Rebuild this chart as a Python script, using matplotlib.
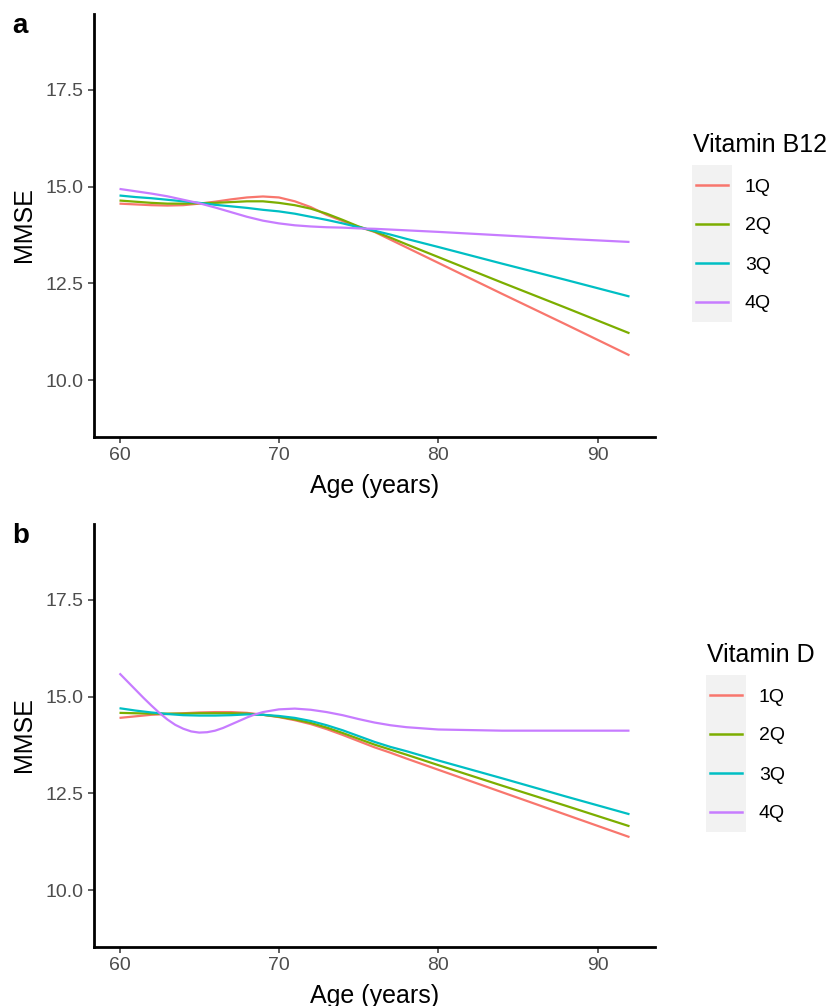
import matplotlib
matplotlib.use('Agg')
import matplotlib.pyplot as plt
from matplotlib.patches import Rectangle
from matplotlib.lines import Line2D

plt.rcParams['font.family'] = ['Liberation Sans', 'DejaVu Sans']

# data (smoothed MMSE by age)
AGES = [60, 61, 62, 63, 64, 65, 66, 67, 68, 69, 70, 71, 72, 73, 74, 75, 76, 77, 78,
        80, 84, 88, 92]
# the wiggly Vitamin D 4Q curve is read at half-year steps early on
AGES_VD4 = [60, 60.5, 61, 61.5, 62, 62.5, 63, 63.5, 64, 64.5, 65, 65.5, 66, 66.5, 67,
            67.5, 68, 68.5, 69, 70, 71, 72, 73, 74, 75, 76, 77, 78, 80, 84, 88, 92]
QUARTILES = ['1Q', '2Q', '3Q', '4Q']

# panel a: Vitamin B12
b12_1q = [14.56, 14.54, 14.52, 14.51, 14.52, 14.56, 14.61, 14.67, 14.72, 14.745, 14.72, 14.62,
          14.47, 14.27, 14.11, 13.96, 13.83, 13.63, 13.43, 13.03, 12.23, 11.44, 10.64]
b12_2q = [14.64, 14.61, 14.58, 14.56, 14.56, 14.57, 14.58, 14.60, 14.62, 14.62, 14.58, 14.52,
          14.43, 14.30, 14.14, 13.97, 13.84, 13.68, 13.51, 13.18, 12.52, 11.87, 11.21]
b12_3q = [14.77, 14.73, 14.70, 14.66, 14.62, 14.58, 14.53, 14.49, 14.45, 14.40, 14.36, 14.30,
          14.22, 14.14, 14.05, 13.95, 13.86, 13.76, 13.65, 13.44, 13.01, 12.59, 12.16]
b12_4q = [14.94, 14.88, 14.82, 14.75, 14.66, 14.57, 14.46, 14.34, 14.22, 14.12, 14.05, 14.00,
          13.97, 13.95, 13.94, 13.92, 13.91, 13.89, 13.87, 13.83, 13.74, 13.65, 13.57]

# panel b: Vitamin D
vd_1q = [14.45, 14.49, 14.53, 14.55, 14.57, 14.59, 14.60, 14.60, 14.58, 14.53, 14.47, 14.39,
         14.29, 14.16, 14.01, 13.85, 13.69, 13.55, 13.40, 13.11, 12.53, 11.95, 11.37]
vd_2q = [14.58, 14.57, 14.56, 14.56, 14.56, 14.57, 14.57, 14.57, 14.56, 14.53, 14.48, 14.41,
         14.32, 14.20, 14.06, 13.91, 13.76, 13.63, 13.50, 13.23, 12.70, 12.18, 11.65]
vd_3q = [14.70, 14.64, 14.59, 14.55, 14.52, 14.51, 14.51, 14.52, 14.54, 14.53, 14.50, 14.45,
         14.37, 14.26, 14.13, 13.98, 13.83, 13.70, 13.59, 13.35, 12.89, 12.42, 11.96]
vd_4q = [15.60, 15.39, 15.18, 14.97, 14.77, 14.58, 14.41, 14.27, 14.17, 14.10, 14.07, 14.08,
         14.12, 14.19, 14.28, 14.37, 14.46, 14.54, 14.60, 14.67, 14.69, 14.66, 14.60, 14.52,
         14.42, 14.33, 14.26, 14.21, 14.15, 14.12, 14.12, 14.12]

X_TICKS = [60, 70, 80, 90]
Y_TICKS = [10.0, 12.5, 15.0, 17.5]
Y_TICK_LABELS = ['10.0', '12.5', '15.0', '17.5']

COLORS = ['#F8766D', '#7CAE00', '#00BFC4', '#C77CFF']

W, H = 828, 1006


def fx(x):
    return x / W


def fy(y):
    return 1 - y / H


def style_axis(ax):
    ax.set_xlim(58.4, 93.6)
    ax.set_ylim(8.53, 19.46)
    ax.set_xticks(X_TICKS)
    ax.set_yticks(Y_TICKS)
    ax.set_yticklabels(Y_TICK_LABELS)
    for s in ['top', 'right']:
        ax.spines[s].set_visible(False)
    for s in ['left', 'bottom']:
        ax.spines[s].set_linewidth(2.0)
        ax.spines[s].set_color('black')
    ax.tick_params(length=4, width=1.1, color='#333333', labelcolor='#4D4D4D',
                   labelsize=14, pad=3.5)


def draw_legend(fig, title, left, top):
    fig.text(fx(left + 1), fy(top - 13), title, fontsize=18, va='baseline', ha='left')
    fig.patches.append(Rectangle((fx(left), fy(top + 157)), 40 / W, 157 / H,
                                 transform=fig.transFigure, facecolor='#F2F2F2',
                                 edgecolor='none'))
    for i, (lab, c) in enumerate(zip(QUARTILES, COLORS)):
        ky = top + 19.5 + 39 * i
        fig.lines.append(Line2D([fx(left + 4), fx(left + 36)], [fy(ky), fy(ky)],
                                transform=fig.transFigure, color=c, linewidth=1.8))
        fig.text(fx(left + 53), fy(ky + 7), lab, fontsize=14, va='baseline', ha='left')


def draw_panel(fig, top, series, letter, legend_title, legend_left):
    ax = fig.add_axes([fx(94), fy(top + 423), 561 / W, 423 / H])
    for (ages, vals), c in zip(series, COLORS):
        ax.plot(ages, vals, color=c, linewidth=1.6, solid_capstyle='butt',
                solid_joinstyle='round')
    style_axis(ax)
    fig.text(fx(12), fy(top + 19), letter, fontsize=20, fontweight='bold',
             va='baseline', ha='left')
    fig.text(fx(24), fy(top + 211), 'MMSE', fontsize=18, rotation=90,
             va='center', ha='center')
    fig.text(fx(375), fy(top + 479), 'Age (years)', fontsize=18,
             va='baseline', ha='center')
    draw_legend(fig, legend_title, legend_left, top + 151)
    return ax


fig = plt.figure(figsize=(W / 100, H / 100), dpi=100)
draw_panel(fig, 14, [(AGES, b12_1q), (AGES, b12_2q), (AGES, b12_3q), (AGES, b12_4q)],
           'a', 'Vitamin B12', 692)
draw_panel(fig, 524, [(AGES, vd_1q), (AGES, vd_2q), (AGES, vd_3q), (AGES_VD4, vd_4q)],
           'b', 'Vitamin D', 706)

plt.savefig('out.png', dpi=100, facecolor='white')
plt.close()
